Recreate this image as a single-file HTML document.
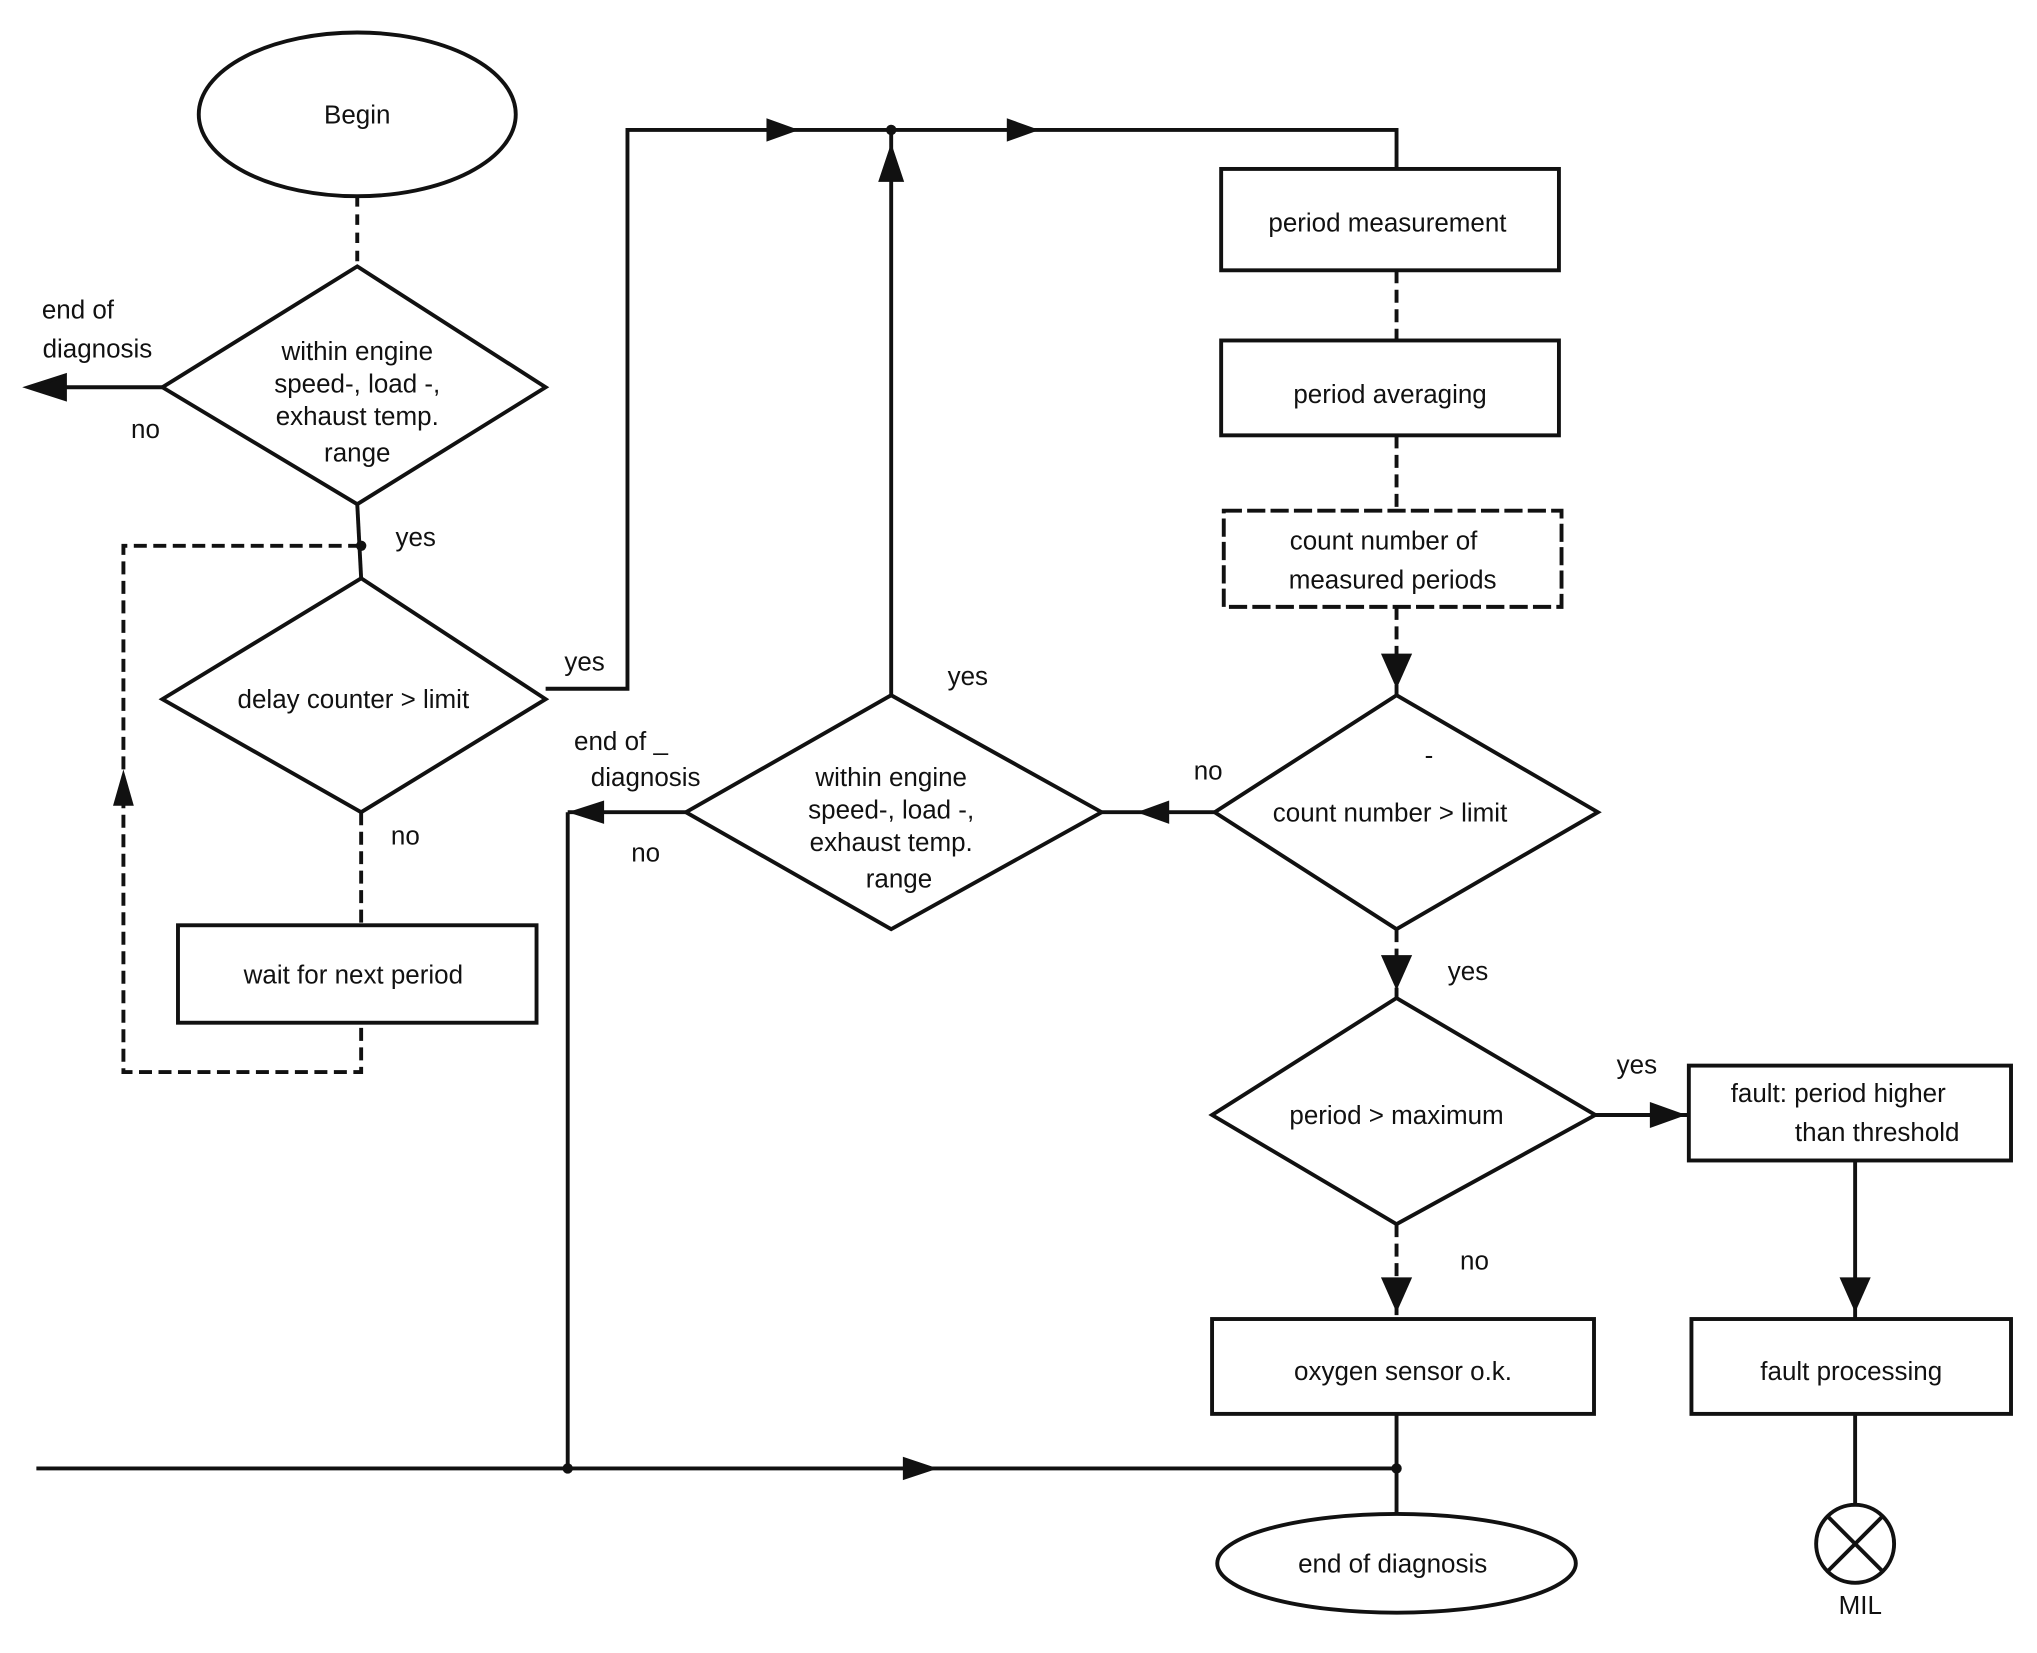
<!DOCTYPE html>
<html><head><meta charset="utf-8"><style>
html,body{margin:0;padding:0;background:#fff;}
svg{display:block;}
text{font-family:"Liberation Sans",sans-serif;font-size:20px;fill:#111;text-anchor:middle;}
</style></head><body>
<svg width="2037" height="1653" viewBox="0 0 1568 1272" preserveAspectRatio="none" xmlns="http://www.w3.org/2000/svg">
<defs>
<marker id="a" viewBox="0 0 10 10" refX="5" refY="5" markerWidth="9" markerHeight="9" orient="auto-start-reverse"><path d="M0,0 L10,5 L0,10 z" fill="#111"/></marker>
</defs>
<g stroke="#111" stroke-width="3" fill="none">
<ellipse cx="275" cy="88" rx="122" ry="63"/>
<line x1="275" y1="151" x2="275" y2="205" stroke-dasharray="8,6"/>
<polygon points="275,205 420,298 275,388 125,298"/>
<line x1="125" y1="298" x2="30" y2="298"/>
<polygon points="22,298 50,289 50,307" fill="#111"/>
<line x1="275" y1="388" x2="278" y2="445"/>
<polyline points="278,420 95,420 95,825 278,825 278,787" stroke-dasharray="10,5"/>
<polygon points="95,592 87,620 103,620" fill="#111" stroke="none"/>
<polygon points="278,445 420,538 278,625 125,538"/>
<line x1="278" y1="625" x2="278" y2="712" stroke-dasharray="10,5"/>
<rect x="137" y="712" width="276" height="75"/>
<polyline points="420,530 483,530 483,100 1075,100 1075,130"/>
<polygon points="615,100 590,91 590,109" fill="#111" stroke="none"/>
<polygon points="800,100 775,91 775,109" fill="#111" stroke="none"/>
<rect x="940" y="130" width="260" height="78"/>
<line x1="1075" y1="208" x2="1075" y2="262" stroke-dasharray="10,5"/>
<rect x="940" y="262" width="260" height="73"/>
<line x1="1075" y1="335" x2="1075" y2="393" stroke-dasharray="10,5"/>
<rect x="942" y="393" width="260" height="74" stroke-dasharray="14,4"/>
<line x1="1075" y1="467" x2="1075" y2="535" stroke-dasharray="10,5"/>
<polygon points="1075,530 1063,503 1087,503" fill="#111" stroke="none"/>
<polygon points="1075,535 1230,625 1075,715 935,625"/>
<line x1="935" y1="625" x2="848" y2="625"/>
<polygon points="875,625 900,616 900,634" fill="#111" stroke="none"/>
<polygon points="686,535 848,625 686,715 528,625"/>
<line x1="686" y1="535" x2="686" y2="100"/>
<polygon points="686,110 676,140 696,140" fill="#111" stroke="none"/>
<line x1="528" y1="625" x2="437" y2="625"/>
<polygon points="437,625 465,616 465,634" fill="#111" stroke="none"/>
<line x1="437" y1="625" x2="437" y2="1130"/>
<line x1="28" y1="1130" x2="1075" y2="1130"/>
<polygon points="722,1130 695,1121 695,1139" fill="#111" stroke="none"/>
<line x1="1075" y1="715" x2="1075" y2="768" stroke-dasharray="10,5"/>
<polygon points="1075,762 1063,735 1087,735" fill="#111" stroke="none"/>
<polygon points="1075,768 1228,858 1075,942 933,858"/>
<line x1="1228" y1="858" x2="1300" y2="858"/>
<polygon points="1298,858 1270,848 1270,868" fill="#111" stroke="none"/>
<rect x="1300" y="820" width="248" height="73"/>
<line x1="1428" y1="893" x2="1428" y2="1015"/>
<polygon points="1428,1010 1416,983 1440,983" fill="#111" stroke="none"/>
<rect x="1302" y="1015" width="246" height="73"/>
<line x1="1428" y1="1088" x2="1428" y2="1158"/>
<circle cx="1428" cy="1188" r="30"/>
<line x1="1407" y1="1167" x2="1449" y2="1209"/>
<line x1="1449" y1="1167" x2="1407" y2="1209"/>
<line x1="1075" y1="942" x2="1075" y2="1015" stroke-dasharray="10,5"/>
<polygon points="1075,1010 1063,983 1087,983" fill="#111" stroke="none"/>
<rect x="933" y="1015" width="294" height="73"/>
<line x1="1075" y1="1088" x2="1075" y2="1165"/>
<ellipse cx="1075" cy="1203" rx="138" ry="38"/>
</g>
<g fill="#111">
<circle cx="278" cy="420" r="4"/><circle cx="686" cy="100" r="4"/>
<circle cx="437" cy="1130" r="4"/><circle cx="1075" cy="1130" r="4"/>
</g>
<text x="275" y="95">Begin</text>
<text x="275" y="277">within engine</text>
<text x="275" y="302">speed-, load -,</text>
<text x="275" y="327">exhaust temp.</text>
<text x="275" y="355">range</text>
<text x="60" y="245">end of</text>
<text x="75" y="275">diagnosis</text>
<text x="112" y="337">no</text>
<text x="320" y="420">yes</text>
<text x="272" y="545">delay counter &gt; limit</text>
<text x="450" y="516">yes</text>
<text x="312" y="650">no</text>
<text x="272" y="757">wait for next period</text>
<text x="1068" y="178">period measurement</text>
<text x="1070" y="310">period averaging</text>
<text x="1065" y="423">count number of</text>
<text x="1072" y="453">measured periods</text>
<text x="930" y="600">no</text>
<text x="1070" y="632">count number &gt; limit</text>
<text x="1100" y="588">-</text>
<text x="686" y="605">within engine</text>
<text x="686" y="630">speed-, load -,</text>
<text x="686" y="655">exhaust temp.</text>
<text x="692" y="683">range</text>
<text x="745" y="527">yes</text>
<text x="478" y="577">end of  _</text>
<text x="497" y="605">diagnosis</text>
<text x="497" y="663">no</text>
<text x="1130" y="754">yes</text>
<text x="1075" y="865">period &gt; maximum</text>
<text x="1260" y="826">yes</text>
<text x="1415" y="848">fault: period higher</text>
<text x="1445" y="878">than threshold</text>
<text x="1135" y="977">no</text>
<text x="1080" y="1062">oxygen sensor o.k.</text>
<text x="1425" y="1062">fault processing</text>
<text x="1072" y="1210">end of diagnosis</text>
<text x="1432" y="1242">MIL</text>
</svg>
</body></html>
